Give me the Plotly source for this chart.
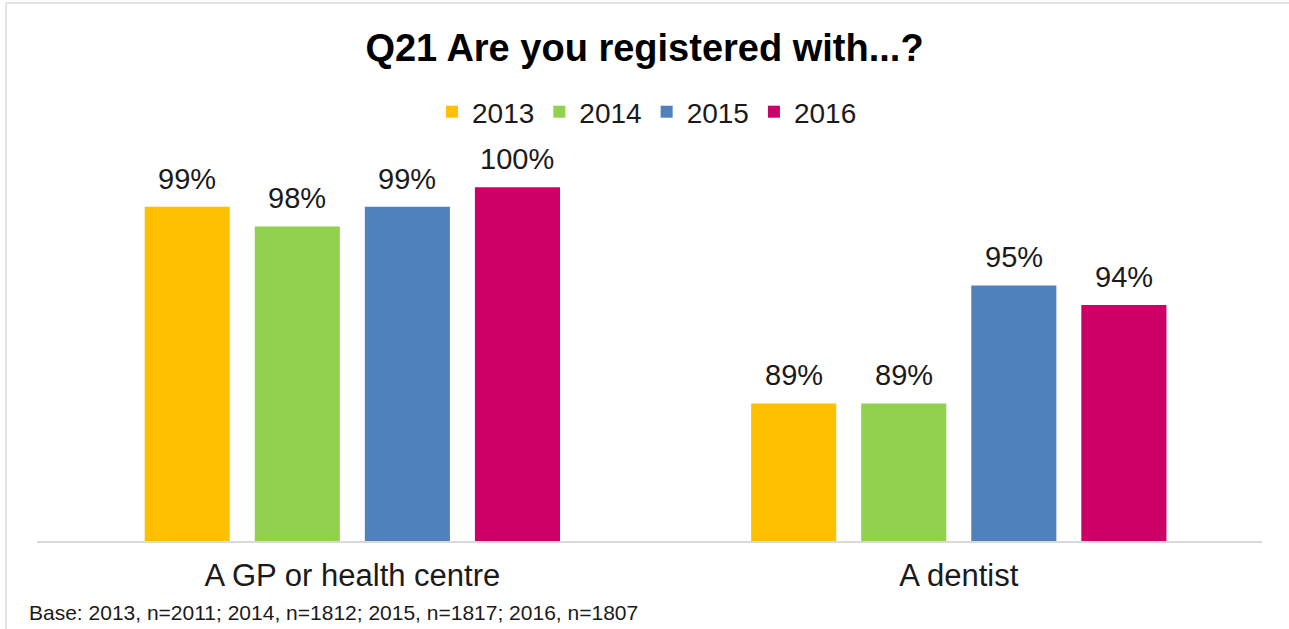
import plotly.graph_objects as go

categories = ["A GP or health centre", "A dentist"]
years = ["2013", "2014", "2015", "2016"]
values_2013 = [99, 89]
values_2014 = [98, 89]
values_2015 = [99, 95]
values_2016 = [100, 94]
series = [values_2013, values_2014, values_2015, values_2016]
colors = ["#FFC000", "#92D050", "#4F81BD", "#CC0066"]
footnote = "Base: 2013, n=2011; 2014, n=1812; 2015, n=1817; 2016, n=1807"

FONT = "Liberation Sans, Arial"
TXT = "#1a1a1a"

fig = go.Figure()
for yr, vals, col in zip(years, series, colors):
    fig.add_trace(go.Bar(
        name=yr, x=categories, y=vals, marker=dict(color=col, line=dict(width=0)),
    ))

# value labels above bars
for i, vals in enumerate(series):
    for cat, v in zip(categories, vals):
        fig.add_annotation(x=cat, y=v, xref="x", yref="y", text=f"{v}%", showarrow=False,
                           xshift=(i - 1.5) * 110, yshift=28, yanchor="middle",
                           font=dict(family=FONT, size=29, color=TXT))

W, H = 1289, 629
L, R, T, B = 37, W - 1262, 138, H - 541
fig.update_layout(
    width=W, height=H,
    margin=dict(l=L, r=R, t=T, b=B, autoexpand=False),
    paper_bgcolor="white", plot_bgcolor="white",
    barmode="group", bargap=0.274, bargroupgap=0.227,
    title=dict(text="<b>Q21 Are you registered with...?</b>", x=0.5, xanchor="center",
               y=1 - 48 / H, yanchor="middle",
               font=dict(family=FONT, size=38, color="black")),
    legend=dict(orientation="h", x=0.498, xanchor="center", y=1 - 112 / H, yanchor="middle",
                yref="container", font=dict(family=FONT, size=28, color=TXT),
                itemwidth=30, traceorder="normal"),
    xaxis=dict(range=[-0.52, 1.5], showline=True, linecolor="#D9D9D9", linewidth=2,
               ticks="", ticklabelstandoff=6, automargin=False,
               tickfont=dict(family=FONT, size=31, color=TXT),
               showgrid=False),
    yaxis=dict(range=[82, 102.5], visible=False, showgrid=False),
    showlegend=True,
)
pw, ph = W - L - R, H - T - B
fig.add_annotation(text=footnote, xref="paper", yref="paper",
                   x=(27 - L) / pw, xanchor="left", y=-(612 - 541) / ph, yanchor="middle",
                   showarrow=False, font=dict(family=FONT, size=21, color=TXT))
# outer frame lines (top and left)
fig.add_shape(type="line", xref="paper", yref="paper",
              x0=(5 - L) / pw, x1=(W - L) / pw, y0=(H - B - 3) / ph, y1=(H - B - 3) / ph,
              line=dict(color="#E3E3E3", width=2))
fig.add_shape(type="line", xref="paper", yref="paper",
              x0=(6 - L) / pw, x1=(6 - L) / pw, y0=(H - B - 3) / ph, y1=-B / ph,
              line=dict(color="#E3E3E3", width=2))
fig.write_html("out.html", post_script="document.body.style.margin='0';",
               config={"displayModeBar": False})
